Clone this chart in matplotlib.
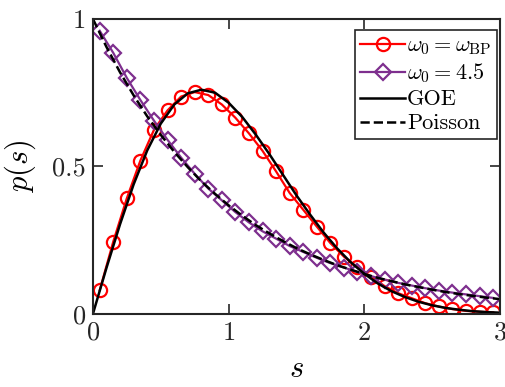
import numpy as np
import matplotlib
matplotlib.use("Agg")
import matplotlib.pyplot as plt

plt.rcParams['font.family'] = 'serif'
plt.rcParams['font.serif'] = ['cmr10']
plt.rcParams['mathtext.fontset'] = 'cm'
plt.rcParams['axes.formatter.use_mathtext'] = True

# nearest-neighbour spacing histograms (bin centres)
s_bins = [0.05, 0.15, 0.25, 0.35, 0.45, 0.55, 0.65, 0.75, 0.85, 0.95,
          1.05, 1.15, 1.25, 1.35, 1.45, 1.55, 1.65, 1.75, 1.85, 1.95,
          2.05, 2.15, 2.25, 2.35, 2.45, 2.55, 2.65, 2.75, 2.85, 2.95]
p_bp = [0.080, 0.245, 0.392, 0.520, 0.624, 0.690, 0.737, 0.752, 0.742, 0.710,
        0.665, 0.612, 0.553, 0.483, 0.410, 0.353, 0.296, 0.240, 0.194, 0.158,
        0.126, 0.094, 0.070, 0.053, 0.036, 0.025, 0.016, 0.010, 0.007, 0.005]
p_45 = [0.960, 0.885, 0.800, 0.725, 0.655, 0.590, 0.530, 0.475, 0.425, 0.385,
        0.345, 0.310, 0.280, 0.255, 0.230, 0.210, 0.190, 0.172, 0.157, 0.142,
        0.128, 0.116, 0.105, 0.096, 0.087, 0.079, 0.072, 0.066, 0.060, 0.054]

# reference curves
s_ref = [0.0, 0.1, 0.2, 0.3, 0.4, 0.5, 0.6, 0.7, 0.8, 0.9, 1.0,
         1.1, 1.2, 1.3, 1.4, 1.5, 1.6, 1.7, 1.8, 1.9, 2.0,
         2.1, 2.2, 2.3, 2.4, 2.5, 2.6, 2.7, 2.8, 2.9, 3.0]
p_goe = [0.0, 0.156, 0.304, 0.439, 0.554, 0.645, 0.710, 0.748, 0.760, 0.750, 0.716,
         0.668, 0.608, 0.542, 0.472, 0.402, 0.337, 0.276, 0.222, 0.175, 0.136,
         0.103, 0.077, 0.057, 0.041, 0.029, 0.020, 0.014, 0.009, 0.006, 0.004]
p_poisson = [1.0, 0.905, 0.819, 0.741, 0.670, 0.607, 0.549, 0.497, 0.449, 0.407, 0.368,
             0.333, 0.301, 0.273, 0.247, 0.223, 0.202, 0.183, 0.165, 0.150, 0.135,
             0.122, 0.111, 0.100, 0.091, 0.082, 0.074, 0.067, 0.061, 0.055, 0.050]

purple = '#7E2F8E'

fig = plt.figure(figsize=(5.05, 3.87), dpi=100)
ax = fig.add_axes([0.184, 0.189, 0.806, 0.762])

ax.plot(s_bins, p_bp, '-o', color='red', lw=1.6, ms=9.5, mfc='none', mew=1.6,
        label=r'$\omega_0=\omega_{\rm BP}$')
ax.plot(s_bins, p_45, '-D', color=purple, lw=1.6, ms=8.5, mfc='none', mew=1.6,
        label=r'$\omega_0=4.5$')
ax.plot(s_ref, p_goe, '-', color='black', lw=1.8, label='GOE')
ax.plot(s_ref, p_poisson, '--', color='black', lw=1.8, label='Poisson')

ax.set_xlim(0, 3)
ax.set_ylim(0, 1)
ax.set_xticks([0, 1, 2, 3])
ax.set_yticks([0, 0.5, 1])
ax.set_yticklabels(['0', '0.5', '1'])
ax.tick_params(direction='in', length=7, width=1.2, top=True, right=True,
               labelsize=19, colors='#262626', pad=5)
for sp in ax.spines.values():
    sp.set_linewidth(1.5)
    sp.set_color('#262626')

ax.set_xlabel(r'$s$', fontsize=22, labelpad=8)
ax.set_ylabel(r'$p(s)$', fontsize=22, labelpad=10)

leg = ax.legend(loc='upper right', bbox_to_anchor=(0.993, 0.962), fontsize=16,
                handlelength=2.0, handletextpad=0.1, borderpad=0.25,
                labelspacing=0.2, borderaxespad=0.0,
                fancybox=False, framealpha=1)
leg.get_frame().set_edgecolor('#262626')
leg.get_frame().set_linewidth(1.2)

fig.savefig('out.png', dpi=100)
